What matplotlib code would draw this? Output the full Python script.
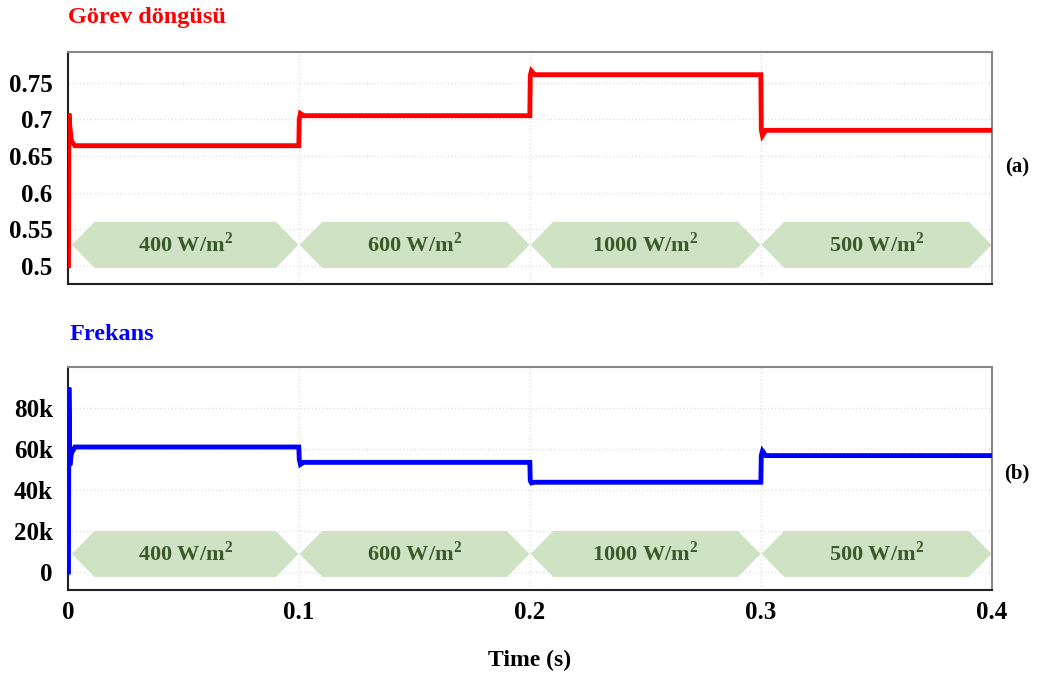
import matplotlib.pyplot as plt
from matplotlib.patches import Polygon

# duty cycle (Görev döngüsü)
duty_t = [0.0, 0.0002, 0.0004, 0.0008, 0.0015, 0.003, 0.0999, 0.1001, 0.1006, 0.102, 0.1999, 0.2001, 0.2006, 0.202, 0.2999, 0.3001, 0.3006, 0.302, 0.4]
duty_v = [0.50, 0.50, 0.708, 0.69, 0.67, 0.664, 0.664, 0.700, 0.708, 0.705, 0.705, 0.760, 0.766, 0.761, 0.761, 0.686, 0.678, 0.685, 0.685]

# frequency (Frekans)
freq_t = [0.0, 0.0002, 0.0004, 0.0008, 0.0015, 0.003, 0.0999, 0.1001, 0.1006, 0.102, 0.1999, 0.2001, 0.2006, 0.202, 0.2999, 0.3001, 0.3006, 0.302, 0.4]
freq_v = [0, 0, 90000, 52000, 58000, 61000, 61000, 55000, 52500, 53500, 53500, 44500, 43500, 43800, 43800, 57000, 59000, 56800, 56800]

seg_edges = [0.0, 0.1, 0.2, 0.3, 0.4]
seg_labels = ["400 W/m$^\\mathregular{2}$", "600 W/m$^\\mathregular{2}$", "1000 W/m$^\\mathregular{2}$", "500 W/m$^\\mathregular{2}$"]

duty_ticks = [0.5, 0.55, 0.6, 0.65, 0.7, 0.75]
duty_ticklabels = ["0.5", "0.55", "0.6", "0.65", "0.7", "0.75"]
freq_ticks = [0, 20000, 40000, 60000, 80000]
freq_ticklabels = ["0", "20k", "40k", "60k", "80k"]
x_ticks = [0, 0.1, 0.2, 0.3, 0.4]
x_ticklabels = ["0", "0.1", "0.2", "0.3", "0.4"]

plt.rcParams['font.family'] = ['Liberation Serif', 'DejaVu Serif']
plt.rcParams['mathtext.fontset'] = 'custom'
plt.rcParams['mathtext.rm'] = 'Liberation Serif:bold'

fig = plt.figure(figsize=(10.43, 6.79), dpi=100)
ax1 = fig.add_axes([0.0652, 0.5817, 0.886, 0.3417])
ax2 = fig.add_axes([0.0652, 0.131, 0.886, 0.3284])


def banners(ax, yc, h, inset):
    for i, lab in enumerate(seg_labels):
        x0 = seg_edges[i] + (0.0017 if i == 0 else 0.0002)
        x1 = seg_edges[i + 1] - 0.0002
        pts = [(x0, yc), (x0 + inset, yc + h / 2), (x1 - inset, yc + h / 2),
               (x1, yc), (x1 - inset, yc - h / 2), (x0 + inset, yc - h / 2)]
        ax.add_patch(Polygon(pts, closed=True, fc="#cfe3c4", ec="none", zorder=1))
        ax.text((x0 + x1) / 2, yc, lab, ha="center", va="center", fontsize=16,
                fontweight="bold", color="#3b5a2a", zorder=2)


banners(ax1, 0.5285, 0.063, 0.0098)
banners(ax2, 8800, 22400, 0.0098)

ax1.plot(duty_t, duty_v, color="#ff0000", lw=3.5, zorder=3, solid_joinstyle="miter")
ax2.plot(freq_t, freq_v, color="#0000ff", lw=3.5, zorder=3, solid_joinstyle="miter")

ax1.set_ylim(0.475, 0.792)
ax2.set_ylim(-8800, 100000)
ax1.set_yticks(duty_ticks)
ax1.set_yticklabels(duty_ticklabels)
ax2.set_yticks(freq_ticks)
ax2.set_yticklabels(freq_ticklabels)

for ax in (ax1, ax2):
    ax.set_xlim(0, 0.4)
    ax.set_xticks(x_ticks)
    ax.grid(True, color="#e2e2e2", ls=":", lw=1)
    ax.tick_params(length=0, labelsize=18)
    ax.tick_params(axis="y", pad=11)
    ax.tick_params(axis="x", pad=8)
    for sp in ax.spines.values():
        sp.set_linewidth(1.5)
        sp.set_color("#222222")
    ax.spines["top"].set_color("#888888")
    ax.spines["right"].set_color("#888888")
    ax.set_axisbelow(True)

ax1.set_xticklabels([])
ax2.set_xticklabels(x_ticklabels)
for ax in (ax1, ax2):
    for lab in ax.get_yticklabels() + ax.get_xticklabels():
        lab.set_fontweight("bold")

fig.text(0.0652, 0.974, "Görev döngüsü", color="#ff0000", fontsize=17.5, fontweight="bold", va="center")
fig.text(0.067, 0.507, "Frekans", color="#0000ff", fontsize=17.5, fontweight="bold", va="center")
fig.text(0.975, 0.754, "(a)", fontsize=15, fontweight="bold", ha="center", va="center")
fig.text(0.975, 0.302, "(b)", fontsize=15, fontweight="bold", ha="center", va="center")
fig.text(0.508, 0.028, "Time (s)", fontsize=17, fontweight="bold", ha="center", va="center")

fig.savefig("out.png", dpi=100)
